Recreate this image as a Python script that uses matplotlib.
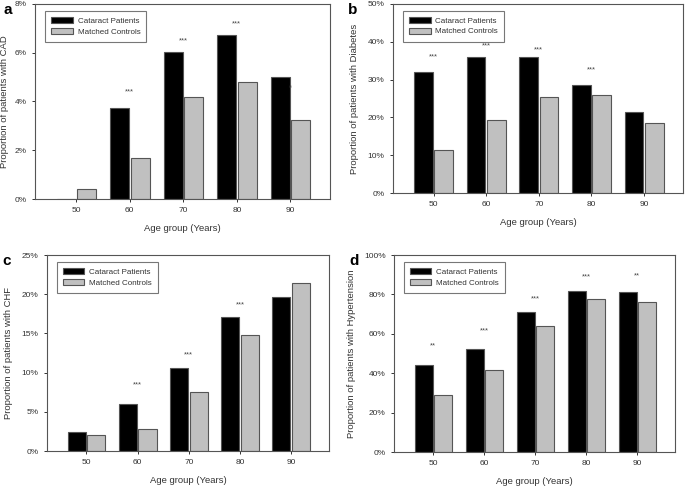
import matplotlib.pyplot as plt
import numpy as np

plt.rcParams['font.family'] = ['Liberation Sans', 'DejaVu Sans']

ages = [50, 60, 70, 80, 90]

# proportions (%) per panel
cad_cataract = [0.0, 3.75, 6.02, 6.74, 5.0]
cad_control = [0.41, 1.68, 4.18, 4.79, 3.24]
cad_stars = ['', '***', '***', '***', '*']
cad_star_y = [0, 4.38, 6.5, 7.17, 4.55]

dm_cataract = [32.0, 36.1, 35.9, 28.6, 21.5]
dm_control = [11.3, 19.2, 25.4, 25.8, 18.6]
dm_stars = ['***', '***', '***', '***', '']
dm_star_y = [36.1, 38.9, 37.9, 32.7, 0]

chf_cataract = [2.44, 6.03, 10.64, 17.14, 19.7]
chf_control = [2.01, 2.78, 7.48, 14.83, 21.37]
chf_stars = ['', '***', '***', '***', '']
chf_star_y = [0, 8.38, 12.2, 18.6, 0]

htn_cataract = [44.4, 52.2, 71.1, 81.6, 81.1]
htn_control = [28.7, 41.7, 64.1, 77.7, 76.2]
htn_stars = ['**', '***', '***', '***', '**']
htn_star_y = [53.9, 61.7, 77.9, 88.9, 89.3]

panels = [
    ('a', 'Proportion of patients with CAD', cad_cataract, cad_control, cad_stars, cad_star_y, 8, 2,
     [35 / 685, 1 - 199 / 486, 295 / 685, 195 / 486]),
    ('b', 'Proportion of patients with Diabetes', dm_cataract, dm_control, dm_stars, dm_star_y, 50, 10,
     [393 / 685, 1 - 193 / 486, 290 / 685, 189 / 486]),
    ('c', 'Proportion of patients with CHF', chf_cataract, chf_control, chf_stars, chf_star_y, 25, 5,
     [47 / 685, 1 - 451 / 486, 282 / 685, 196 / 486]),
    ('d', 'Proportion of patients with Hypertension', htn_cataract, htn_control, htn_stars, htn_star_y, 100, 20,
     [394 / 685, 1 - 452 / 486, 281 / 685, 197 / 486]),
]

spine_col = '#555555'
text_col = '#333333'

fig = plt.figure(figsize=(6.85, 4.86), dpi=100)

for letter, ylabel, cat, ctl, stars, star_y, ymax, ystep, rect in panels:
    ax = fig.add_axes(rect)
    x = np.array(ages, dtype=float)
    w = 3.55
    ax.bar(x - 1.9, cat, width=w, color='black', edgecolor=spine_col, linewidth=0.8,
           label='Cataract Patients')
    ax.bar(x + 1.95, ctl, width=w, color='#c0c0c0', edgecolor=spine_col, linewidth=0.8,
           label='Matched Controls')
    for xi, s, sy in zip(ages, stars, star_y):
        if s:
            ax.text(xi, sy, s, ha='center', va='center', fontsize=5.5, color='#444444')
    ax.set_xlim(42.3, 97.4)
    ax.set_ylim(0, ymax)
    yt = np.arange(0, ymax + ystep / 2, ystep)
    ax.set_yticks(yt)
    ax.set_yticklabels([f'{int(v)}%' for v in yt])
    ax.set_xticks(ages)
    ax.tick_params(labelsize=6, colors=text_col, length=2.5, width=0.7, pad=3.5)
    for sp in ax.spines.values():
        sp.set_color(spine_col)
        sp.set_linewidth(0.8)
    ax.set_xlabel('Age group (Years)', fontsize=6.8, color=text_col, labelpad=7)
    ax.set_ylabel(ylabel, fontsize=6.8, color=text_col, labelpad=4 if letter == 'a' else 6)
    leg = ax.legend(loc='upper left', bbox_to_anchor=(0.02, 0.985), fontsize=5.8, frameon=True,
                    fancybox=False, edgecolor=spine_col, handlelength=2.7, handleheight=0.8,
                    borderpad=0.75, labelspacing=0.35, handletextpad=0.6)
    leg.get_frame().set_linewidth(0.8)
    for t in leg.get_texts():
        t.set_color(text_col)
    fig.text(rect[0] - 31 / 685 if letter == 'a' else rect[0] - 45 / 685,
             rect[1] + rect[3] - 6 / 486, letter, fontsize=11, fontweight='bold', va='center')

fig.savefig('out.png', dpi=100)
